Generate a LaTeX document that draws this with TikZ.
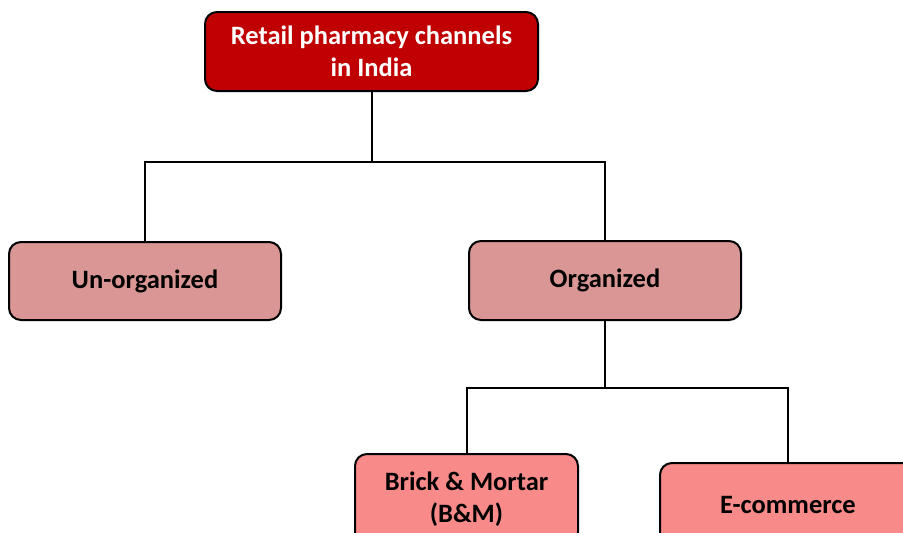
\documentclass[tikz,border=0pt]{standalone}
\usepackage{fontspec}
\setmainfont{Carlito}
\definecolor{topred}{HTML}{C00000}
\definecolor{midpink}{HTML}{D99694}
\definecolor{lowpink}{HTML}{F88A8A}
\begin{document}
\begin{tikzpicture}[x=1pt,y=-1pt,
  box/.style={draw=black, line width=2pt, rounded corners=12pt, align=center,
    font=\bfseries\fontsize{26.5}{31.5}\selectfont, inner sep=0pt},
  link/.style={draw=black, line width=2pt}]
\useasboundingbox (0,0) rectangle (903,533);
\clip (0,0) rectangle (903,533);
\node[box, fill=topred, text=white, minimum width=333pt, minimum height=79pt] (top) at (371.5,51.5) {Retail pharmacy channels\\in India};
\node[box, fill=midpink, minimum width=272pt, minimum height=78pt] (unorg) at (145,281) {Un-organized};
\node[box, fill=midpink, minimum width=272pt, minimum height=79pt] (org) at (605,280.5) {Organized};
\node[box, fill=lowpink, minimum width=223pt, minimum height=90pt] (bm) at (466.5,499) {Brick \& Mortar\\(B\&M)};
\node[box, fill=lowpink, minimum width=256pt, minimum height=84pt] (ecom) at (788,505) {E-commerce};
\coordinate (j1) at (371.5,162);
\coordinate (j2) at (605,388);
\draw[link] (top.south) -- (j1);
\draw[link] (unorg.north) -- (unorg.north |- j1) -- (org.north |- j1) -- (org.north);
\draw[link] (org.south) -- (j2);
\draw[link] (bm.north) -- (bm.north |- j2) -- (ecom.north |- j2) -- (ecom.north);
\end{tikzpicture}
\end{document}
